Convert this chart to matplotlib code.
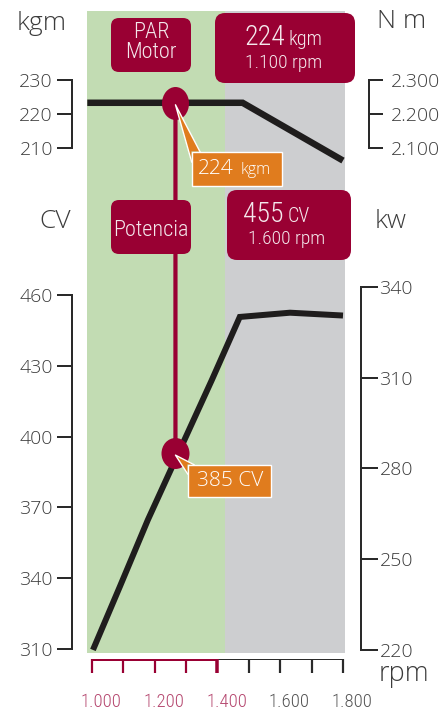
import matplotlib
matplotlib.use("Agg")
import matplotlib.pyplot as plt
from matplotlib import font_manager as fm
from matplotlib.patches import FancyBboxPatch, Polygon, ConnectionPatch
from matplotlib.lines import Line2D
from matplotlib.path import Path
from matplotlib.transforms import Affine2D
from matplotlib.ticker import FuncFormatter, FixedLocator

# ---------------- data ----------------
rpm_ticks = [1000, 1100, 1200, 1300, 1400, 1500, 1600, 1700, 1800]
rpm_label_vals = [1000, 1200, 1400, 1600, 1800]
rpm_labels = ["1.000", "1.200", "1.400", "1.600", "1.800"]

torque_rpm = [985, 1480, 1800]
torque_kgm = [223.3, 223.3, 206.3]

power_rpm = [1003, 1089, 1178, 1382, 1471, 1631, 1800]
power_cv = [309.6, 336.5, 364.7, 424.0, 450.7, 452.5, 451.3]

kgm_ticks = [210, 220, 230]
nm_ticks = [2100, 2200, 2300]
cv_ticks = [310, 340, 370, 400, 430, 460]
kw_ticks = [220, 250, 280, 310, 340]

marker_rpm = 1266
marker_kgm = 223.3
marker_cv = 393.0

green_zone = (984, 1424)
gray_zone = (1424, 1807)

# ---------------- style ----------------
W, H = 441, 716
MAROON = "#990033"
ORANGE = "#E07C1E"
GREEN = "#C2DCB3"
GRAY = "#CDCED0"
CURVE = "#1f1d1d"
AXC = "#2a2a2a"
TXT = "#3c3c3c"
BOXTXT = "#F4E8EC"
RED_LBL = "#B5476F"
GRAY_LBL = "#555555"

fonts = fm.fontManager.ttflist
avail = {f.name for f in fonts}


def wnum(w):
    table = {"ultralight": 200, "light": 300, "normal": 400, "regular": 400, "book": 400,
             "medium": 500, "semibold": 600, "bold": 700, "heavy": 800, "black": 900}
    if isinstance(w, (int, float)):
        return int(w)
    return table.get(str(w).lower(), 400)


def light_of(name):
    ws = sorted({wnum(f.weight) for f in fonts if f.name == name})
    for target in (300, 250, 275, 200, 350, 400):
        if target in ws:
            return target
    return None


def pick_light(cands):
    for c in cands:
        if c in avail:
            w = light_of(c)
            if w is not None and w <= 300:
                return c, w
    for c in cands:
        if c in avail:
            w = light_of(c)
            if w is not None and w <= 400:
                return c, w
    return "DejaVu Sans", 400


REG, REGW = pick_light(["Open Sans", "Open Sans Light", "Noto Sans", "Lato"])
CON, CONW = pick_light(["Open Sans Condensed", "Open Sans Condensed Light", "Roboto Condensed",
                        "Encode Sans Condensed", "Sofia Sans Condensed", "Barlow Condensed",
                        "Saira SemiCondensed", "Liberation Sans Narrow"])


def pt(px):
    return px * 0.72


def px_rect(x0, y0, x1, y1):
    return [x0 / W, 1 - y1 / H, (x1 - x0) / W, (y1 - y0) / H]


k = 251.0 / 800.0
X_LIM = (1000 - 5 / k, 1000 + 253 / k)

fig = plt.figure(figsize=(W / 100, H / 100), dpi=100)
fig.patch.set_facecolor("white")

# background zones
ax_bg = fig.add_axes(px_rect(87, 11, 345, 653))
ax_bg.set_xlim(*X_LIM)
ax_bg.set_ylim(0, 1)
ax_bg.axis("off")
ax_bg.axvspan(*green_zone, color=GREEN, lw=0)
ax_bg.axvspan(*gray_zone, color=GRAY, lw=0)


def style_axis(ax, side, outward_px, bounds, ticks, tick_len_px, pad_px, fmt=None):
    ax.set_xlim(*X_LIM)
    ax.patch.set_visible(False)
    for s in ["top", "bottom", "left", "right"]:
        ax.spines[s].set_visible(s == side)
    sp = ax.spines[side]
    sp.set_position(("outward", pt(outward_px)))
    sp.set_bounds(*bounds)
    sp.set_color(AXC)
    sp.set_linewidth(pt(2))
    ax.set_xticks([])
    ax.yaxis.set_ticks_position(side)
    ax.yaxis.set_major_locator(FixedLocator(ticks))
    if fmt:
        ax.yaxis.set_major_formatter(FuncFormatter(fmt))
    ax.tick_params(axis="y", which="major", direction="out", length=pt(tick_len_px),
                   width=pt(2), color=AXC, pad=pt(pad_px), labelsize=14, labelcolor=TXT)


# torque axes
ax_t = fig.add_axes(px_rect(87, 75, 345, 165))
ax_t.set_ylim(205.0, 231.47)
style_axis(ax_t, "left", 15, (210, 230), kgm_ticks, 15, 4)
ax_t.plot(torque_rpm, torque_kgm, color=CURVE, lw=pt(6.5), solid_capstyle="butt",
          solid_joinstyle="miter", zorder=3)

ax_t2 = fig.add_axes(px_rect(87, 75, 345, 165))
ax_t2.set_ylim(2050.0, 2314.7)
style_axis(ax_t2, "right", 24, (2100, 2300), nm_ticks, 14, 8,
           fmt=lambda v, p: f"{v / 1000:.3f}")

# power axes
ax_p = fig.add_axes(px_rect(87, 285, 345, 653))
ax_p.set_ylim(308.3, 464.24)
style_axis(ax_p, "left", 15, (310, 460), cv_ticks, 15, 4)
ax_p.plot(power_rpm, power_cv, color=CURVE, lw=pt(6), solid_capstyle="butt",
          solid_joinstyle="miter", zorder=3)

ax_p2 = fig.add_axes(px_rect(87, 285, 345, 653))
ax_p2.set_ylim(219.0, 340.66)
style_axis(ax_p2, "right", 16, (220, 340), kw_ticks, 17, 1.5)

for a in (ax_t, ax_t2, ax_p, ax_p2):
    for lab in a.get_yticklabels():
        lab.set_fontfamily(REG)
        lab.set_fontweight(REGW)


# markers (slightly tall ellipses)
def ell_marker(wpx, hpx):
    return Path.unit_circle().transformed(Affine2D().scale(wpx / hpx, 1.0))


ax_t.plot([marker_rpm], [marker_kgm], marker=ell_marker(27, 33), ms=pt(33),
          color=MAROON, mec="none", zorder=5, clip_on=False)
ax_p.plot([marker_rpm], [marker_cv], marker=ell_marker(28, 31), ms=pt(31),
          color=MAROON, mec="none", zorder=5, clip_on=False)

con = ConnectionPatch(xyA=(marker_rpm, marker_kgm), coordsA=ax_t.transData,
                      xyB=(marker_rpm, marker_cv), coordsB=ax_p.transData,
                      color=MAROON, lw=pt(4.2), zorder=1)
fig.add_artist(con)

# rpm axis
ax_x = fig.add_axes(px_rect(87, 659, 345, 673))
ax_x.set_xlim(*X_LIM)
ax_x.set_ylim(1, 0)
ax_x.axis("off")
ax_x.hlines(0, 1000, 1400, color=MAROON, lw=pt(3))
ax_x.hlines(0, 1400, 1800, color=AXC, lw=pt(2))
for r in rpm_ticks:
    if r < 1400:
        ax_x.vlines(r, 0, 1, color=MAROON, lw=pt(2.2))
    elif r == 1400:
        ax_x.vlines(r, 0, 1, color=MAROON, lw=pt(3.5))
    else:
        ax_x.vlines(r, 0, 1, color=AXC, lw=pt(2.2))
for r, lab in zip(rpm_label_vals, rpm_labels):
    ax_x.annotate(lab, xy=(r, 0), xytext=(pt(9), -pt(43)), textcoords="offset points",
                  ha="center", va="center", fontsize=13.5, color=RED_LBL if r <= 1400 else GRAY_LBL,
                  family=CON, fontweight=CONW, annotation_clip=False)

# annotation layer (pixel coordinates)
ax_a = fig.add_axes([0, 0, 1, 1])
ax_a.set_xlim(0, W)
ax_a.set_ylim(H, 0)
ax_a.axis("off")
ax_a.patch.set_visible(False)
ax_a.set_zorder(5)


def rbox(x0, y0, x1, y1, r=8, fc=MAROON):
    ax_a.add_patch(FancyBboxPatch((x0, y0), x1 - x0, y1 - y0,
                                  boxstyle=f"round,pad=0,rounding_size={r}",
                                  fc=fc, ec="none", zorder=2))


def t(x, y, s, size, ha="center", va="center", color=TXT, fam=None, w=None):
    ax_a.text(x, y, s, fontsize=size, ha=ha, va=va, color=color,
              family=fam or REG, fontweight=w if w is not None else REGW, zorder=6)


# axis titles
t(42, 23, "kgm", 19)
t(402, 22, "N m", 19)
t(55, 222, "CV", 19)
t(391, 221, "kw", 19)
t(404, 681, "rpm", 19.5, va="baseline")

# dark red boxes
rbox(111, 18, 191, 72)
t(151, 33, "PAR", 16, color=BOXTXT, fam=CON, w=CONW)
t(151, 53, "Motor", 16, color=BOXTXT, fam=CON, w=CONW)

rbox(215, 13, 355, 83, r=10)
t(285, 45, "224", 20, ha="right", va="baseline", color=BOXTXT, fam=CON, w=CONW)
t(289, 45, "kgm", 14.5, ha="left", va="baseline", color=BOXTXT, fam=CON, w=CONW)
t(284, 63, "1.100 rpm", 14, color=BOXTXT, fam=CON, w=CONW)

rbox(111, 200, 191, 254)
t(151, 231, "Potencia", 16, color=BOXTXT, fam=CON, w=CONW)

rbox(227, 190, 351, 260, r=10)
t(284, 222, "455", 20, ha="right", va="baseline", color=BOXTXT, fam=CON, w=CONW)
t(288, 222, "CV", 14.5, ha="left", va="baseline", color=BOXTXT, fam=CON, w=CONW)
t(287, 239, "1.600 rpm", 14, color=BOXTXT, fam=CON, w=CONW)


# orange callouts with pointer
def callout(x0, y0, x1, y1, tip_ax, tip_xy, b1, b2):
    tip_disp = tip_ax.transData.transform(tip_xy)
    tx, ty = ax_a.transData.inverted().transform(tip_disp)
    ty += 2
    ax_a.add_patch(Polygon([(x0, y0), (x1, y0), (x1, y1), (x0, y1)], closed=True,
                           fc=ORANGE, ec="white", lw=1.0, zorder=3, joinstyle="miter"))
    ax_a.add_patch(Polygon([(tx, ty), (x0 - 0.6, b1), (x0 - 0.6, y0 - 0.6), (b2, y0 - 0.6)],
                           closed=True, fc=ORANGE, ec="none", zorder=4))
    ax_a.add_line(Line2D([x0 - 0.3, tx, b2], [b1, ty, y0 - 0.3], color="white", lw=1.0, zorder=4.5))


callout(192, 152, 282, 186, ax_t, (marker_rpm, marker_kgm), 162, 200)
t(234, 174, "224", 15, ha="right", va="baseline", color="white")
t(241, 174, "kgm", 11.5, ha="left", va="baseline", color="white")

callout(188, 465, 271, 497, ax_p, (marker_rpm, marker_cv), 474, 194)
t(230, 481, "385 CV", 15, color="white")

fig.savefig("out.png", dpi=100, facecolor="white")
